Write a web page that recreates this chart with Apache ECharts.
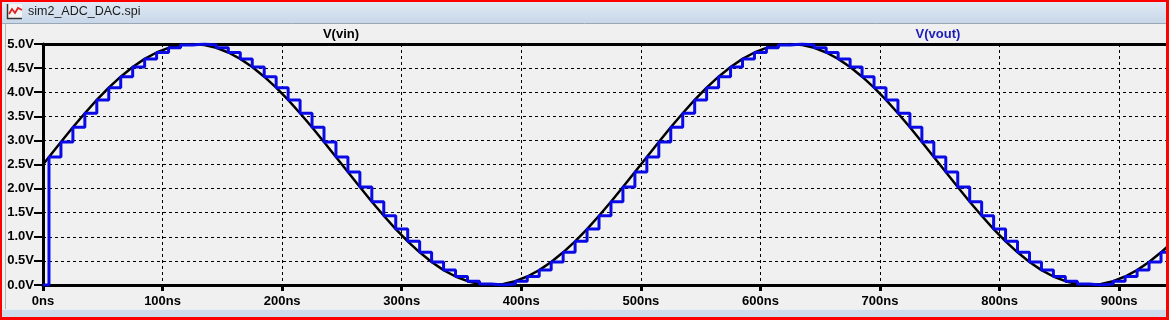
<!DOCTYPE html>
<html>
<head>
<meta charset="utf-8">
<script src="https://cdn.jsdelivr.net/npm/echarts@6/dist/echarts.min.js"></script>
<style>
html,body{margin:0;padding:0;background:#f0f0f0;}
#chart{width:1169px;height:320px;}
</style>
</head>
<body>
<div id="chart"></div>
<script>
// ---- data ----
const windowTitle = 'sim2_ADC_DAC.spi';
const traceNames = ['V(vin)', 'V(vout)'];
const xTickLabels = ['0ns','100ns','200ns','300ns','400ns','500ns','600ns','700ns','800ns','900ns'];
const yTickLabels = ['0.0V','0.5V','1.0V','1.5V','2.0V','2.5V','3.0V','3.5V','4.0V','4.5V','5.0V'];

// time points (ns)
const timeNs = [0,
  5,15,25,35,45,55,65,75,85,95,
  105,115,125,135,145,155,165,175,185,195,
  205,215,225,235,245,255,265,275,285,295,
  305,315,325,335,345,355,365,375,385,395,
  405,415,425,435,445,455,465,475,485,495,
  505,515,525,535,545,555,565,575,585,595,
  605,615,625,635,645,655,665,675,685,695,
  705,715,725,735,745,755,765,775,785,795,
  805,815,825,835,845,855,865,875,885,895,
  905,915,925,935,
  940];

// V(vin) (V)
const vinVolts = [2.500,
  2.657,2.968,3.273,3.564,3.840,4.094,4.322,4.523,4.691,4.824,
  4.921,4.980,5.000,4.980,4.921,4.824,4.691,4.523,4.322,4.094,
  3.840,3.564,3.273,2.968,2.657,2.343,2.032,1.727,1.436,1.160,
  0.906,0.678,0.477,0.309,0.176,0.079,0.020,0.000,0.020,0.079,
  0.176,0.309,0.477,0.678,0.906,1.160,1.436,1.727,2.032,2.343,
  2.657,2.968,3.273,3.564,3.840,4.094,4.322,4.523,4.691,4.824,
  4.921,4.980,5.000,4.980,4.921,4.824,4.691,4.523,4.322,4.094,
  3.840,3.564,3.273,2.968,2.657,2.343,2.032,1.727,1.436,1.160,
  0.906,0.678,0.477,0.309,0.176,0.079,0.020,0.000,0.020,0.079,
  0.176,0.309,0.477,0.678,
  0.789];

// V(vout) (V), held from each time point to the next
const voutVolts = [0.000,
  2.657,2.968,3.273,3.564,3.840,4.094,4.322,4.523,4.691,4.824,
  4.921,4.980,5.000,4.980,4.921,4.824,4.691,4.523,4.322,4.094,
  3.840,3.564,3.273,2.968,2.657,2.343,2.032,1.727,1.436,1.160,
  0.906,0.678,0.477,0.309,0.176,0.079,0.020,0.000,0.020,0.079,
  0.176,0.309,0.477,0.678,0.906,1.160,1.436,1.727,2.032,2.343,
  2.657,2.968,3.273,3.564,3.840,4.094,4.322,4.523,4.691,4.824,
  4.921,4.980,5.000,4.980,4.921,4.824,4.691,4.523,4.322,4.094,
  3.840,3.564,3.273,2.968,2.657,2.343,2.032,1.727,1.436,1.160,
  0.906,0.678,0.477,0.309,0.176,0.079,0.020,0.000,0.020,0.079,
  0.176,0.309,0.477,0.678,
  0.678];

// ---- chart ----
const FONT = '"Liberation Sans", Arial, sans-serif';
const vinData = timeNs.map((t, i) => [t, vinVolts[i]]);
const voutData = timeNs.map((t, i) => [t, voutVolts[i]]);

const chart = echarts.init(document.getElementById('chart'), null, {renderer: 'canvas'});
chart.setOption({
  backgroundColor: '#f0f0f0',
  animation: false,
  grid: {left: 43, top: 44, right: 2, bottom: 35, containLabel: false},
  xAxis: [{
    type: 'value', min: 0, max: 940, interval: 100,
    axisLine: {show: true, onZero: false, lineStyle: {color: '#000', width: 3}},
    axisTick: {show: true, length: 6, lineStyle: {color: '#000', width: 3}},
    axisLabel: {
      show: true, margin: 10, color: '#000', fontSize: 13, fontWeight: 'bold', fontFamily: FONT,
      showMaxLabel: false,
      formatter: v => (v % 100 === 0 && v / 100 < xTickLabels.length) ? xTickLabels[v / 100] : ''
    },
    splitLine: {show: true, lineStyle: {color: '#000', width: 1, type: [3, 3]}}
  }, {
    type: 'value', position: 'top', min: 0, max: 940,
    axisLine: {show: true, onZero: false, lineStyle: {color: '#000', width: 3}},
    axisTick: {show: false}, axisLabel: {show: false}, splitLine: {show: false}
  }],
  yAxis: {
    type: 'value', min: 0, max: 5, interval: 0.5,
    axisLine: {show: true, onZero: false, lineStyle: {color: '#000', width: 3}},
    axisTick: {show: true, length: 9, lineStyle: {color: '#000', width: 2}},
    axisLabel: {
      show: true, margin: 9, color: '#000', fontSize: 13, fontWeight: 'bold', fontFamily: FONT,
      formatter: v => yTickLabels[Math.round(v * 2)] || ''
    },
    splitLine: {show: true, lineStyle: {color: '#000', width: 1, type: [3, 3]}}
  },
  series: [{
    name: traceNames[0], type: 'line', xAxisIndex: 0, data: vinData,
    showSymbol: false, symbol: 'none',
    lineStyle: {color: '#000000', width: 2.5}, z: 3
  }, {
    name: traceNames[1], type: 'line', xAxisIndex: 0, data: voutData, step: 'end',
    showSymbol: false, symbol: 'none',
    lineStyle: {color: '#0a0ae6', width: 3}, z: 4
  }],
  graphic: [
    // title bar
    {type: 'rect', z: 100, shape: {x: 0, y: 0, width: 1169, height: 23},
     style: {fill: new echarts.graphic.LinearGradient(0, 0, 0, 1, [{offset: 0, color: '#e3ebf5'}, {offset: 1, color: '#c7d7e9'}])}},
    {type: 'line', z: 101, shape: {x1: 0, y1: 23.5, x2: 1169, y2: 23.5}, style: {stroke: '#9aa8b6', lineWidth: 1}},
    // icon
    {type: 'rect', z: 102, shape: {x: 7, y: 4, width: 15, height: 14}, style: {fill: '#f4f4f4'}},
    {type: 'polyline', z: 103, shape: {points: [[7.5, 4], [7.5, 18.5], [22, 18.5]]}, style: {stroke: '#333', lineWidth: 1.5, fill: null}},
    {type: 'polyline', z: 103, shape: {points: [[9, 14], [12, 9], [15, 13], [18, 8], [22, 10]]}, style: {stroke: '#e02020', lineWidth: 1.8, fill: null}},
    {type: 'text', z: 102, style: {text: windowTitle, x: 28, y: 12, font: '12.5px ' + FONT, fill: '#1a1a1a', verticalAlign: 'middle', textVerticalAlign: 'middle'}},
    // trace labels
    {type: 'text', z: 102, style: {text: traceNames[0], x: 341, y: 34, font: 'bold 13px ' + FONT, fill: '#000', align: 'center', textAlign: 'center', verticalAlign: 'middle', textVerticalAlign: 'middle'}},
    {type: 'text', z: 102, style: {text: traceNames[1], x: 938, y: 34, font: 'bold 13px ' + FONT, fill: '#1c1cb8', align: 'center', textAlign: 'center', verticalAlign: 'middle', textVerticalAlign: 'middle'}},
    // window frame
    {type: 'line', z: 101, shape: {x1: 5.5, y1: 24, x2: 5.5, y2: 310}, style: {stroke: '#b4b4b4', lineWidth: 1}},
    {type: 'rect', z: 101, shape: {x: 0, y: 310, width: 1169, height: 7}, style: {fill: '#cddbea'}},
    {type: 'line', z: 101, shape: {x1: 0, y1: 309.5, x2: 1169, y2: 309.5}, style: {stroke: '#e8eef5', lineWidth: 1}},
    // red outline
    {type: 'rect', z: 110, shape: {x: 0, y: 0, width: 2, height: 320}, style: {fill: '#ff0000'}},
    {type: 'rect', z: 110, shape: {x: 0, y: 0, width: 1169, height: 2}, style: {fill: '#ff0000'}},
    {type: 'rect', z: 110, shape: {x: 1166, y: 0, width: 3, height: 320}, style: {fill: '#ff0000'}},
    {type: 'rect', z: 110, shape: {x: 0, y: 317, width: 1169, height: 3}, style: {fill: '#ff0000'}}
  ]
});
</script>
</body>
</html>
